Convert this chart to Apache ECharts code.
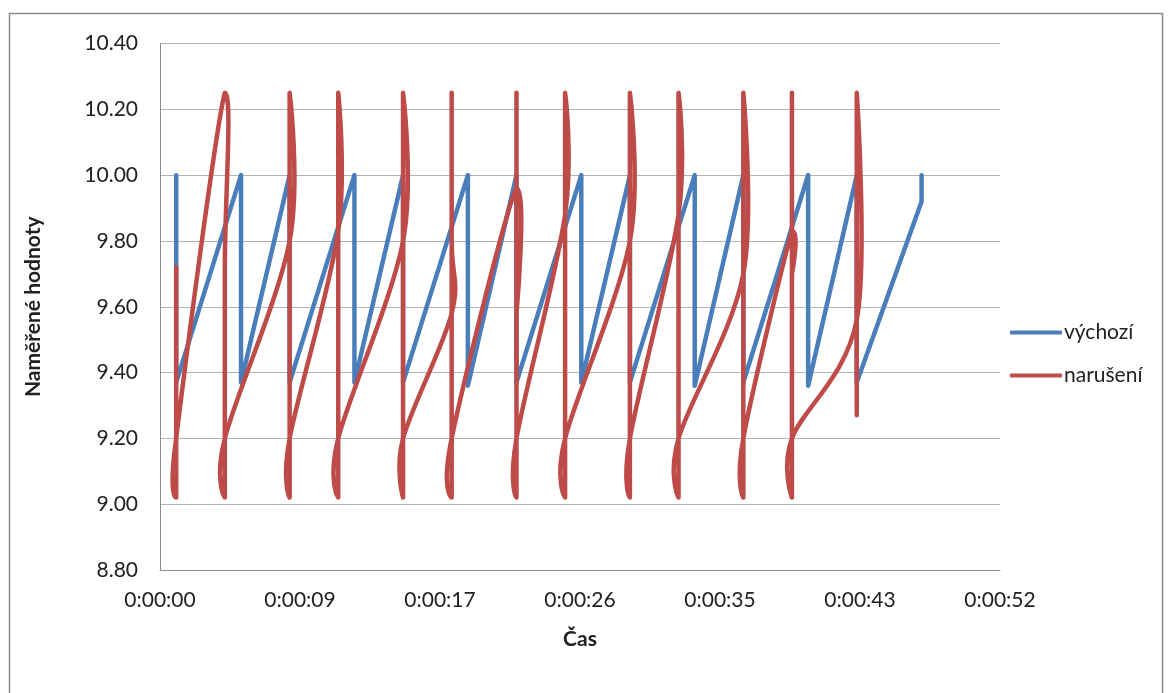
<!DOCTYPE html>
<html>
<head>
<meta charset="utf-8">
<script src="https://cdn.jsdelivr.net/npm/echarts@6/dist/echarts.min.js"></script>
<style>
  html, body { margin: 0; padding: 0; background: #ffffff; }
  #chart { width: 1170px; height: 693px; }
</style>
</head>
<body>
<div id="chart"></div>
<script>
// Readings, time in seconds from the start of the measurement.
// Several readings can share one second (the clock resolution is 1 s).
const baseTimes = [1, 1, 5, 5, 8, 8, 12, 12, 15, 15, 19, 19, 22, 22, 26, 26,
  29, 29, 33, 33, 36, 36, 40, 40, 43, 43, 47, 47];
const baseValues = [10.00, 9.37, 10.00, 9.37, 10.00, 9.37, 10.00, 9.37, 10.00, 9.37,
  10.00, 9.36, 10.00, 9.37, 10.00, 9.37, 10.00, 9.37, 10.00, 9.36, 10.00, 9.37,
  10.00, 9.36, 10.00, 9.37, 9.92, 10.00];

const distTimes = [1, 1, 1,
  4, 4, 4, 4,
  8, 8, 8, 8,
  11, 11, 11, 11,
  15, 15, 15, 15,
  18, 18, 18, 18, 18,
  22, 22, 22, 22, 22,
  25, 25, 25, 25,
  29, 29, 29, 29,
  32, 32, 32, 32,
  36, 36, 36, 36,
  39, 39, 39, 39, 39,
  43, 43, 43];
const distValues = [9.72, 9.02, 9.20,
  10.25, 9.72, 9.02, 9.20,
  9.80, 10.25, 9.02, 9.20,
  9.83, 10.25, 9.02, 9.20,
  9.80, 10.25, 9.02, 9.20,
  9.58, 9.80, 10.25, 9.02, 9.20,
  9.96, 9.58, 10.25, 9.02, 9.20,
  9.88, 10.25, 9.02, 9.20,
  9.80, 10.25, 9.02, 9.20,
  9.88, 10.25, 9.02, 9.20,
  9.70, 10.25, 9.02, 9.20,
  9.83, 9.70, 10.25, 9.02, 9.20,
  9.56, 10.25, 9.27];

const seriesNames = ['výchozí', 'narušení'];
// Time axis: one step is 0.0001 day (8.64 s)
const xTickStep = 8.64;
const xTickLabels = ['0:00:00', '0:00:09', '0:00:17', '0:00:26', '0:00:35', '0:00:43', '0:00:52'];
const yMin = 8.8, yMax = 10.4, yStep = 0.2;

const BLUE = '#4A7EBB';
const RED = '#BE4B48';
const FONT = 'Lato, "Open Sans", sans-serif';

const basePairs = baseTimes.map((t, i) => [t, baseValues[i]]);
const distPairs = distTimes.map((t, i) => [t, distValues[i]]);

// Cardinal-spline path through the points (screen space), control points
// kept inside the vertical span of each segment.
function smoothPath(pts) {
  const n = pts.length;
  let d = 'M' + pts[0][0] + ',' + pts[0][1];
  const f = 1 / 6;
  for (let i = 0; i < n - 1; i++) {
    const p0 = pts[Math.max(i - 1, 0)];
    const p1 = pts[i];
    const p2 = pts[i + 1];
    const p3 = pts[Math.min(i + 2, n - 1)];
    const lo = Math.min(p1[1], p2[1]);
    const hi = Math.max(p1[1], p2[1]);
    const clampY = (v) => Math.min(hi, Math.max(lo, v));
    const c1x = p1[0] + (p2[0] - p0[0]) * f;
    const c1y = clampY(p1[1] + (p2[1] - p0[1]) * f);
    const c2x = p2[0] - (p3[0] - p1[0]) * f;
    const c2y = clampY(p2[1] - (p3[1] - p1[1]) * f);
    d += 'C' + c1x + ',' + c1y + ' ' + c2x + ',' + c2y + ' ' + p2[0] + ',' + p2[1];
  }
  return d;
}

const chart = echarts.init(document.getElementById('chart'), null, { renderer: 'canvas' });

chart.setOption({
  animation: false,
  backgroundColor: '#ffffff',
  textStyle: { fontFamily: FONT },
  graphic: [{
    type: 'rect',
    shape: { x: 9.5, y: 13.5, width: 1153, height: 700 },
    style: { fill: 'none', stroke: '#8a8a8a', lineWidth: 1.5 },
    silent: true,
    z: -10
  }],
  grid: { left: 160, right: 170, top: 43.5, bottom: 123, containLabel: false },
  legend: {
    orient: 'vertical',
    left: 1010,
    top: 322,
    padding: 0,
    itemWidth: 52,
    itemHeight: 4,
    itemGap: 22,
    textStyle: { fontFamily: FONT, fontSize: 21, color: '#222', padding: [0, 0, 0, -3] },
    data: [
      { name: seriesNames[0], icon: 'roundRect', itemStyle: { color: BLUE } },
      { name: seriesNames[1], icon: 'roundRect', itemStyle: { color: RED } }
    ]
  },
  xAxis: {
    type: 'value',
    min: 0,
    max: xTickStep * (xTickLabels.length - 1),
    interval: xTickStep,
    name: 'Čas',
    nameLocation: 'middle',
    nameGap: 59,
    nameTextStyle: { fontFamily: FONT, fontWeight: 'bold', fontSize: 21, color: '#222' },
    axisLine: { show: true, lineStyle: { color: '#8c8c8c', width: 1 } },
    axisTick: { show: false },
    splitLine: { show: false },
    axisLabel: {
      margin: 20,
      fontFamily: FONT,
      fontSize: 21,
      color: '#222',
      formatter: (v) => xTickLabels[Math.round(v / xTickStep)]
    }
  },
  yAxis: {
    type: 'value',
    min: yMin,
    max: yMax,
    interval: yStep,
    name: 'Naměřené hodnoty',
    nameLocation: 'middle',
    nameGap: 116,
    nameRotate: 90,
    nameTextStyle: { fontFamily: FONT, fontWeight: 'bold', fontSize: 21, color: '#222' },
    axisLine: { show: true, lineStyle: { color: '#8c8c8c', width: 1 } },
    axisTick: { show: false },
    splitLine: { show: true, lineStyle: { color: '#b3b3b3', width: 1 } },
    axisLabel: {
      margin: 22,
      fontFamily: FONT,
      fontSize: 21,
      color: '#222',
      formatter: (v) => v.toFixed(2)
    }
  },
  series: [
    {
      name: seriesNames[0],
      type: 'line',
      data: basePairs,
      showSymbol: false,
      symbol: 'none',
      smooth: false,
      color: BLUE,
      lineStyle: { color: BLUE, width: 4.5, cap: 'round', join: 'round' },
      itemStyle: { color: BLUE },
      z: 2
    },
    {
      name: seriesNames[1],
      type: 'custom',
      data: distPairs,
      itemStyle: { color: RED },
      clip: true,
      z: 3,
      renderItem: function (params, api) {
        if (params.dataIndex !== 0) return null;
        const pts = distPairs.map((p) => api.coord(p));
        return {
          type: 'path',
          shape: { pathData: smoothPath(pts) },
          style: { fill: 'none', stroke: RED, lineWidth: 4.5, lineCap: 'round', lineJoin: 'round' }
        };
      }
    }
  ]
});
</script>
</body>
</html>
